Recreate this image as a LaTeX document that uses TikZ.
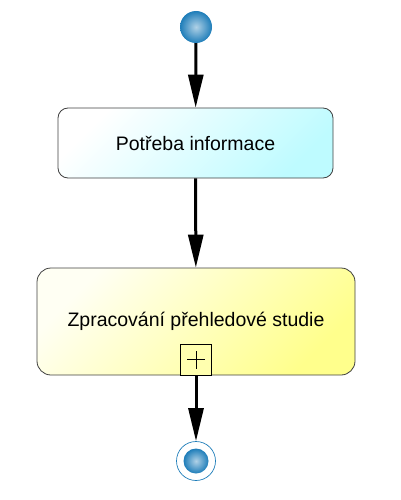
\documentclass[tikz,border=0pt]{standalone}
\usepackage{fontspec}
\setmainfont{Liberation Sans}
\usepackage{xcolor}
\usepackage{tikz}
\usetikzlibrary{arrows.meta}

\definecolor{eventblue}{RGB}{30,125,185}
\definecolor{taskcyan}{RGB}{190,251,255}
\definecolor{subyellow}{RGB}{255,255,140}

\begin{document}
\begin{tikzpicture}[x=1pt, y=-1pt,
        event/.style = {circle, inner sep=0pt, minimum size=32pt, shade, shading=radial,
            inner color=eventblue!35!white, outer color=eventblue},
        task/.style = {rectangle, draw=black!75, line width=0.8pt, rounded corners=10pt,
            inner sep=0pt, font=\fontsize{19.5}{22}\selectfont},
        flow/.style = {line width=3pt, -{Triangle[length=33pt, width=15pt]}}]
        \useasboundingbox (0, 0) rectangle (401, 500);
        \node (start) at (196, 27) [event] {};
        \node (1) at (195.5, 143) [task, minimum width=275pt, minimum height=70pt,
            shade, shading=axis, left color=white, right color=taskcyan, shading angle=45] {Potřeba informace};
        \node (2) at (196, 321.5) [task, rounded corners=14pt, minimum width=318pt, minimum height=107pt,
            shade, shading=axis, left color=white!90!subyellow, right color=subyellow, shading angle=45] {Zpracování přehledové studie};
        \node (plus) at (2.south) [anchor=south, rectangle, draw=black, line width=0.8pt, fill=subyellow!70,
            minimum size=31pt, inner sep=0pt,
            path picture={\draw [line width=0.7pt] ([xshift=-9pt]path picture bounding box.center) -- ([xshift=9pt]path picture bounding box.center);
                \draw [line width=0.7pt] ([yshift=-9pt]path picture bounding box.center) -- ([yshift=9pt]path picture bounding box.center);}] {};
        \node (end) at (196, 461) [circle, draw=eventblue, line width=0.7pt, minimum size=39pt, inner sep=0pt] {};
        \node (endball) at (end.center) [event, minimum size=25pt] {};
        \draw [flow] (start) -- (1);
        \draw [flow] (1) -- (2);
        \draw [flow] (plus) -- (end);
    \end{tikzpicture}
\end{document}
